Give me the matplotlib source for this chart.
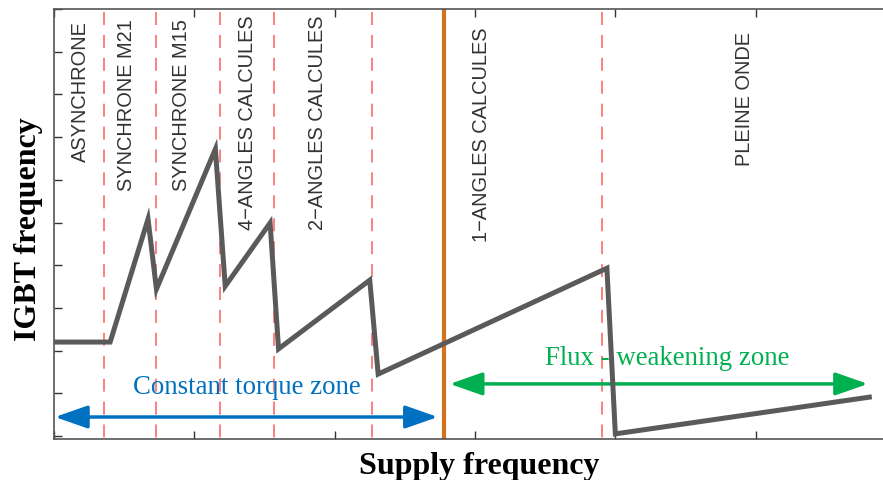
import matplotlib
matplotlib.use('Agg')
import matplotlib.pyplot as plt
from matplotlib.patches import FancyArrowPatch

# IGBT switching frequency vs supply frequency (piecewise PWM strategy)
curve_x = [0.00, 0.40, 0.67, 0.73, 1.15, 1.22, 1.54, 1.60, 2.25, 2.31, 3.94, 4.00, 5.81]
curve_y = [2.20, 2.20, 5.08, 3.44, 6.72, 3.51, 4.99, 2.04, 3.65, 1.45, 3.93, 0.05, 0.91]

# boundaries between modulation modes
mode_edges = [0.356, 0.726, 1.182, 1.567, 2.265, 3.903]
base_speed = 2.78

mode_names = ['ASYNCHRONE', 'SYNCHRONE M21', 'SYNCHRONE M15', '4\u2212ANGLES CALCULES',
              '2\u2212ANGLES CALCULES', '1\u2212ANGLES CALCULES', 'PLEINE ONDE']
mode_label_x = [0.192, 0.520, 0.912, 1.382, 1.880, 3.048, 4.922]
mode_label_top = [9.74, 9.79, 9.79, 9.88, 9.88, 9.60, 9.48]

zone_names = ['Constant torque zone', 'Flux - weakening zone']
zone_spans = [(0.007, 2.735), (2.82, 5.80)]
zone_arrow_y = [0.445, 1.22]
zone_text_xy = [(1.375, 1.17), (4.366, 1.85)]
zone_colors = ['#0070C0', '#00B050']

fig = plt.figure(figsize=(8.83, 4.81), dpi=100)
ax = fig.add_axes([54 / 883, 41 / 481, 842 / 883, 430 / 481])
ax.set_xlim(0, 6)
ax.set_ylim(-0.07, 10)

for x in mode_edges:
    ax.plot([x, x], [9.93, -0.07], color='#FF5C5C', lw=1.1, dashes=(8.5, 6.5), zorder=1)

ax.axvline(base_speed, color='#D4731F', lw=3, zorder=2)

ax.plot(curve_x, curve_y, color='#5A5A5A', lw=3.6, solid_joinstyle='miter', zorder=4)

for name, x, y in zip(mode_names, mode_label_x, mode_label_top):
    ax.text(x, y, name, rotation=90, ha='center', va='top', fontsize=14.4,
            family='Liberation Sans', color='#333333')

for name, (x0, x1), ya, (tx, ty), c in zip(zone_names, zone_spans, zone_arrow_y, zone_text_xy, zone_colors):
    arr = FancyArrowPatch((x0, ya), (x1, ya), arrowstyle='<|-|>,head_length=20,head_width=7',
                          mutation_scale=1, color=c, lw=2.5, shrinkA=0, shrinkB=0, zorder=3)
    ax.add_patch(arr)
    ax.text(tx, ty, name, ha='center', va='center', fontsize=19.3,
            family='Liberation Serif', color=c, zorder=5)

ax.set_xticks([0, 1, 2, 3, 4, 5, 6])
ax.set_yticks(range(11))
ax.tick_params(direction='in', length=6, width=1, color='#333333',
               top=True, right=False, labelleft=False, labelbottom=False)
for s in ax.spines.values():
    s.set_color('#555555')
    s.set_linewidth(1.2)

ax.set_xlabel('Supply frequency', family='Liberation Serif', fontweight='bold', fontsize=23)
ax.xaxis.set_label_coords((479 - 54) / 842, -0.028)
ax.set_ylabel('IGBT frequency', family='Liberation Serif', fontweight='bold', fontsize=23)
ax.yaxis.set_label_coords(-0.013, 0.49)

fig.savefig('out.png', dpi=100)
